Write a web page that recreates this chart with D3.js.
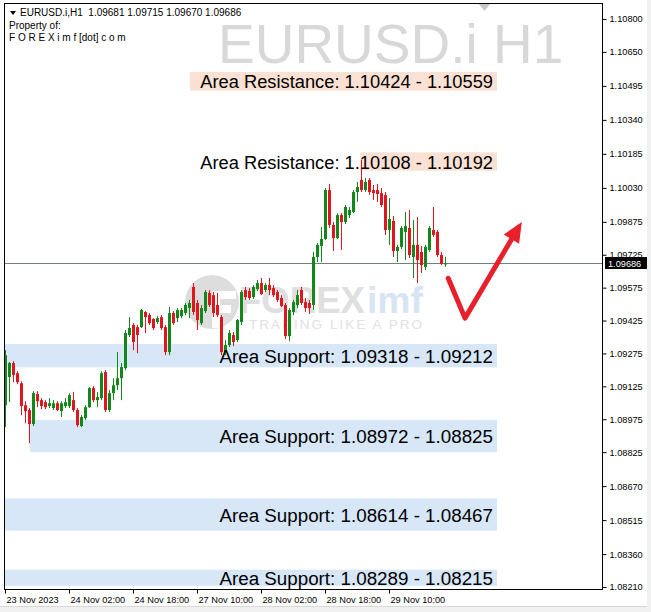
<!DOCTYPE html>
<html><head><meta charset="utf-8">
<script src="https://cdn.jsdelivr.net/npm/d3@7"></script>
<style>
html,body{margin:0;padding:0;background:#fff;}
svg{display:block;}
</style></head>
<body>
<svg id="chart" width="651" height="612"></svg>
<script>
// ---------- DATA ----------
const symbolName = "EURUSD.i H1";
const headerLine = "EURUSD.i,H1  1.09681 1.09715 1.09670 1.09686";
const ownerLines = ["Property of:", "F O R E X i m f [dot] c o m"];
const lastPrice = 1.09686;

// hourly candles, index 0 = 23 Nov 2023 10:00
const opens = [1.09039,1.09167,1.09231,1.09185,1.09139,1.09039,1.09017,1.08953,1.09090,1.09062,
1.09053,1.09035,1.09026,1.09048,1.09012,1.09035,1.09035,1.09062,1.09017,1.08944,
1.08980,1.09030,1.09117,1.09062,1.09071,1.09190,1.09017,1.09094,1.09130,1.09162,
1.09208,1.09359,1.09405,1.09395,1.09395,1.09464,1.09450,1.09432,1.09418,1.09441,
1.09395,1.09281,1.09459,1.09436,1.09445,1.09459,1.09482,1.09578,1.09505,1.09413,
1.09468,1.09551,1.09541,1.09496,1.09441,1.09281,1.09313,1.09359,1.09336,1.09418,
1.09564,1.09560,1.09532,1.09569,1.09596,1.09564,1.09587,1.09573,1.09555,1.09528,
1.09496,1.09354,1.09464,1.09496,1.09564,1.09509,1.09505,1.09496,1.09715,1.09765,
1.09797,1.10020,1.09861,1.09801,1.09906,1.09874,1.09906,1.09920,1.10011,1.10066,
1.10020,1.10066,1.10020,1.10020,1.10006,1.09997,1.09838,1.09879,1.09742,1.09761,
1.09829,1.09847,1.09715,1.09770,1.09738,1.09669,1.09747,1.09838,1.09829,1.09724,
1.09681];
const highs = [1.09290,1.09236,1.09240,1.09194,1.09148,1.09057,1.09026,1.09103,1.09103,1.09071,
1.09062,1.09071,1.09062,1.09057,1.09057,1.09071,1.09094,1.09099,1.09026,1.08994,
1.09039,1.09121,1.09126,1.09099,1.09194,1.09199,1.09108,1.09162,1.09281,1.09231,
1.09382,1.09441,1.09413,1.09405,1.09478,1.09468,1.09459,1.09436,1.09445,1.09450,
1.09405,1.09487,1.09468,1.09482,1.09482,1.09505,1.09519,1.09596,1.09519,1.09496,
1.09564,1.09564,1.09555,1.09551,1.09450,1.09336,1.09382,1.09373,1.09432,1.09564,
1.09578,1.09573,1.09587,1.09610,1.09619,1.09596,1.09619,1.09587,1.09564,1.09541,
1.09505,1.09482,1.09519,1.09564,1.09578,1.09528,1.09519,1.09738,1.09779,1.09851,
1.10029,1.10048,1.09874,1.09915,1.09915,1.09952,1.09943,1.10020,1.10057,1.10157,
1.10075,1.10075,1.10043,1.10048,1.10029,1.10011,1.09984,1.09902,1.09770,1.09856,
1.09920,1.09929,1.09883,1.09897,1.09765,1.09770,1.09856,1.09943,1.09838,1.09738,
1.09715];
const lows = [1.08939,1.09053,1.09144,1.09135,1.08994,1.08957,1.08866,1.08944,1.09030,1.09021,
1.09021,1.09026,1.09017,1.09012,1.08985,1.09026,1.09026,1.09008,1.08939,1.08939,
1.08971,1.09026,1.09053,1.09030,1.09062,1.09008,1.09008,1.09062,1.09108,1.09062,
1.09199,1.09350,1.09290,1.09276,1.09391,1.09368,1.09405,1.09382,1.09409,1.09382,
1.09267,1.09267,1.09405,1.09418,1.09436,1.09450,1.09436,1.09450,1.09382,1.09405,
1.09459,1.09487,1.09441,1.09441,1.09267,1.09267,1.09304,1.09308,1.09327,1.09405,
1.09519,1.09519,1.09523,1.09560,1.09541,1.09555,1.09541,1.09532,1.09509,1.09487,
1.09341,1.09331,1.09450,1.09482,1.09496,1.09464,1.09455,1.09473,1.09692,1.09692,
1.09792,1.09847,1.09742,1.09797,1.09747,1.09865,1.09893,1.09915,1.09966,1.10011,
1.10011,1.09998,1.09975,1.09966,1.09943,1.09815,1.09770,1.09715,1.09692,1.09751,
1.09701,1.09710,1.09619,1.09596,1.09642,1.09655,1.09738,1.09806,1.09715,1.09678,
1.09670];
const closes = [1.09267,1.09231,1.09176,1.09144,1.09035,1.09012,1.08953,1.09094,1.09057,1.09035,
1.09030,1.09048,1.09048,1.09017,1.09048,1.09053,1.09085,1.09017,1.08948,1.08985,
1.09030,1.09117,1.09062,1.09076,1.09185,1.09017,1.09094,1.09130,1.09162,1.09213,
1.09368,1.09391,1.09327,1.09359,1.09473,1.09441,1.09413,1.09391,1.09436,1.09391,
1.09281,1.09459,1.09413,1.09473,1.09473,1.09496,1.09505,1.09464,1.09427,1.09482,
1.09555,1.09496,1.09459,1.09450,1.09281,1.09313,1.09368,1.09327,1.09427,1.09555,
1.09532,1.09528,1.09578,1.09596,1.09546,1.09587,1.09564,1.09541,1.09519,1.09491,
1.09354,1.09473,1.09509,1.09541,1.09505,1.09482,1.09482,1.09715,1.09770,1.09797,
1.10020,1.09861,1.09801,1.09906,1.09874,1.09943,1.09929,1.10011,1.10034,1.10020,
1.10057,1.10011,1.10006,1.10002,1.09952,1.09838,1.09888,1.09742,1.09761,1.09847,
1.09856,1.09724,1.09770,1.09701,1.09678,1.09761,1.09847,1.09815,1.09724,1.09683,
1.09686];

// price axis tick labels
const priceTicks = [1.10800,1.10650,1.10495,1.10340,1.10185,1.10030,1.09875,1.09725,1.09575,
1.09425,1.09275,1.09125,1.08975,1.08825,1.08670,1.08515,1.08360,1.08210];
// time axis
const timeTickIdx = [0,16,32,48,64,80,96];
const timeLabels = ["23 Nov 2023","24 Nov 02:00","24 Nov 18:00","27 Nov 10:00","28 Nov 02:00","28 Nov 18:00","29 Nov 10:00"];

// zones
const zoneKind  = ["res","res","sup","sup","sup","sup"];
const zoneLabel = ["Area Resistance: 1.10424 - 1.10559","Area Resistance: 1.10108 - 1.10192",
  "Area Support: 1.09318 - 1.09212","Area Support: 1.08972 - 1.08825",
  "Area Support: 1.08614 - 1.08467","Area Support: 1.08289 - 1.08215"];
const zoneTop    = [1.10559,1.10192,1.09318,1.08972,1.08614,1.08289];
const zoneBottom = [1.10473,1.10108,1.09212,1.08825,1.08467,1.08215];
const zoneStart  = [46.2,88.8,-1,6.3,-1,-1];
const zoneEnd    = [123,123,123,123,123,123];

// hand-drawn arrow (bar index, price)
const arrowIdx   = [110.8,115.0,128.3];
const arrowPrice = [1.09618,1.09436,1.09847];
const arrowTip   = [129.2,1.09874];

// ---------- CHART ----------
const W=651,H=612;
const plot={l:4,t:3,r:602,b:589};
const svg=d3.select("#chart");
const x=d3.scaleLinear().domain([-0.25,149]).range([4,601]);
const y=d3.scaleLinear().domain([1.08210,1.10800]).range([587,19]);
const FONT="Liberation Sans, Arial, sans-serif";

svg.append("rect").attr("width",W).attr("height",H).attr("fill","#fff");
// screenshot chrome
svg.append("rect").attr("x",0).attr("y",606).attr("width",W).attr("height",6).attr("fill","#f0f0f0");
svg.append("line").attr("x1",0).attr("x2",W).attr("y1",606.5).attr("y2",606.5).attr("stroke","#d8d8d8");
svg.append("rect").attr("x",647).attr("y",0).attr("width",4).attr("height",H).attr("fill","#f0f0f0");

svg.append("clipPath").attr("id","pc").append("rect")
  .attr("x",plot.l).attr("y",plot.t).attr("width",plot.r-plot.l).attr("height",plot.b-plot.t);
const g=svg.append("g").attr("clip-path","url(#pc)");

// watermark
g.append("text").attr("x",218).attr("y",63).text(symbolName)
  .attr("font-family",FONT).attr("font-size",55).attr("fill","#d8d8d8");

// zones
const zones=d3.range(zoneLabel.length).map(i=>({k:zoneKind[i],t:zoneTop[i],b:zoneBottom[i],s:zoneStart[i],e:zoneEnd[i],lab:zoneLabel[i]}));
g.selectAll("rect.zone").data(zones).join("rect").attr("class","zone")
  .attr("x",d=>x(d.s)).attr("width",d=>x(d.e)-x(d.s))
  .attr("y",d=>y(d.t)).attr("height",d=>y(d.b)-y(d.t))
  .attr("fill",d=>d.k==="res"?"#fbe1d3":"#d7e7f8");

// logo watermark
const logo=g.append("g").attr("opacity",0.9);
logo.append("circle").attr("cx",212).attr("cy",302).attr("r",27).attr("fill","#dadada");
logo.append("path").attr("d","M212,291 h24 v8 h-16 v6 h11 v8 h-11 v15 h-8 z").attr("fill","#fff");
logo.append("text").attr("x",239).attr("y",313).text("FOREX")
  .attr("font-family",FONT).attr("font-weight","bold")
  .attr("font-size",36).attr("textLength",126).attr("lengthAdjust","spacingAndGlyphs").attr("fill","#dcdcdc");
logo.append("text").attr("x",367).attr("y",313).text("imf")
  .attr("font-family",FONT).attr("font-weight","bold")
  .attr("font-size",36).attr("textLength",56).attr("lengthAdjust","spacingAndGlyphs").attr("fill","#d3e3f2");
logo.append("text").attr("x",249).attr("y",329).text("TRADING LIKE A PRO")
  .attr("font-family",FONT).attr("font-size",13.5).attr("textLength",173).attr("fill","#dedede");

// current price line
g.append("line").attr("x1",plot.l).attr("x2",plot.r)
  .attr("y1",Math.round(y(lastPrice))+0.5).attr("y2",Math.round(y(lastPrice))+0.5)
  .attr("stroke","#6f8080").attr("stroke-width",1);

// candles
const bars=opens.map((o,i)=>({i,o,h:highs[i],l:lows[i],c:closes[i]}));
const up="#12881a", dn="#e0161e";
const cg=g.append("g");
cg.selectAll("line.wick").data(bars).join("line").attr("class","wick")
  .attr("x1",d=>Math.round(x(d.i))+0.5).attr("x2",d=>Math.round(x(d.i))+0.5)
  .attr("y1",d=>y(d.h)).attr("y2",d=>y(d.l))
  .attr("stroke",d=>d.c>=d.o?up:dn).attr("stroke-width",1);
cg.selectAll("rect.body").data(bars).join("rect").attr("class","body")
  .attr("x",d=>Math.round(x(d.i))-1).attr("width",3)
  .attr("y",d=>y(Math.max(d.o,d.c)))
  .attr("height",d=>Math.max(1,Math.abs(y(d.o)-y(d.c))))
  .attr("fill",d=>d.c>=d.o?up:dn);

// zone labels
g.selectAll("text.zl").data(zones).join("text").attr("class","zl")
  .attr("x",x(122)).attr("y",d=>(y(d.t)+y(d.b))/2+7)
  .attr("text-anchor","end").text(d=>d.lab)
  .attr("font-family",FONT).attr("font-size",d=>d.k==="res"?18.3:18.8)
  .attr("fill","#000");

// arrow
const pts=arrowIdx.map((v,i)=>[x(v),y(arrowPrice[i])]);
g.append("path").attr("d",d3.line()(pts)).attr("fill","none")
  .attr("stroke","#e8202c").attr("stroke-width",5).attr("stroke-linejoin","round").attr("stroke-linecap","round");
const tip=[x(arrowTip[0]),y(arrowTip[1])];
const last=pts[pts.length-1];
const ang=Math.atan2(tip[1]-last[1],tip[0]-last[0]);
const hl=20, hw=9;
const bx=tip[0]-hl*Math.cos(ang), by=tip[1]-hl*Math.sin(ang);
g.append("polygon").attr("points",[
  tip,[bx+hw*Math.sin(ang),by-hw*Math.cos(ang)],[bx-hw*Math.sin(ang),by+hw*Math.cos(ang)]
].map(p=>p.join(",")).join(" ")).attr("fill","#e8202c");

// header text
const hdr=svg.append("g").attr("font-family",FONT).attr("font-size",10).attr("fill","#000");
hdr.append("path").attr("d","M10,11 L16,11 L13,15 Z").attr("fill","#000");
hdr.append("text").attr("x",20).attr("y",16).text(headerLine).style("white-space","pre");
hdr.append("text").attr("x",9).attr("y",29).text(ownerLines[0]);
hdr.append("text").attr("x",9).attr("y",41).text(ownerLines[1]);

// shift marker
svg.append("path").attr("d","M478,3 L491,3 L484.5,11 Z").attr("fill","#c8c8c8");

// frame
svg.append("line").attr("x1",plot.l+0.5).attr("x2",plot.l+0.5).attr("y1",plot.t).attr("y2",plot.b).attr("stroke","#000");
svg.append("line").attr("x1",plot.r+0.5).attr("x2",plot.r+0.5).attr("y1",plot.t).attr("y2",plot.b+1).attr("stroke","#000");
svg.append("line").attr("x1",plot.l).attr("x2",plot.r+1).attr("y1",plot.b+0.5).attr("y2",plot.b+0.5).attr("stroke","#000");
svg.append("line").attr("x1",plot.l).attr("x2",plot.r+1).attr("y1",plot.t+0.5).attr("y2",plot.t+0.5).attr("stroke","#000");

// price axis
const ya=svg.append("g").attr("transform",`translate(${plot.r+0.5},0)`)
  .call(d3.axisRight(y).tickValues(priceTicks).tickSize(4).tickFormat(d3.format(".5f")));
ya.select(".domain").remove();
ya.selectAll("line").attr("stroke","#000");
ya.selectAll("text").attr("x",7).attr("font-family",FONT).attr("font-size",9.2).attr("fill","#000");

// time axis
const xa=svg.append("g").attr("transform",`translate(0,${plot.b+0.5})`)
  .call(d3.axisBottom(x).tickValues(timeTickIdx).tickSize(4).tickFormat((d,i)=>timeLabels[i]));
xa.select(".domain").remove();
xa.selectAll("line").attr("stroke","#000");
xa.selectAll("text").attr("x",1).attr("y",6.5).attr("text-anchor","start")
  .attr("font-family",FONT).attr("font-size",9.2).attr("fill","#000");

// current price box
const cy=y(lastPrice);
svg.append("rect").attr("x",605).attr("y",Math.round(cy)-6).attr("width",42).attr("height",12).attr("fill","#000");
svg.append("text").attr("x",608).attr("y",cy).attr("dy","0.35em").text(d3.format(".5f")(lastPrice))
  .attr("font-family",FONT).attr("font-size",9.2).attr("fill","#fff");
</script>
</body></html>
